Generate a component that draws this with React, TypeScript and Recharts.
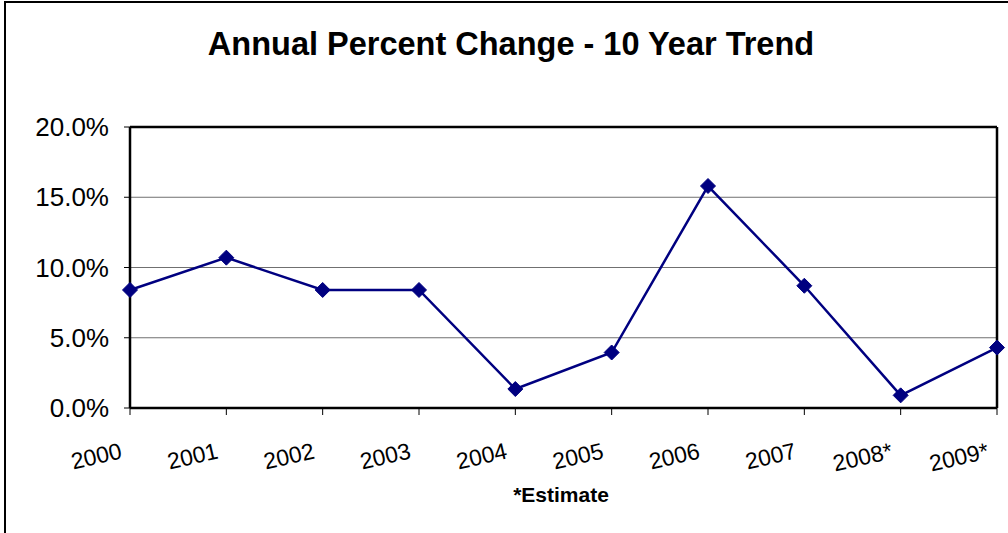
import { LineChart, Line, XAxis, YAxis, CartesianGrid, ReferenceLine } from "recharts";

const years = ["2000", "2001", "2002", "2003", "2004", "2005", "2006", "2007", "2008*", "2009*"];
const pctChange = [8.4, 10.7, 8.4, 8.4, 1.35, 3.95, 15.8, 8.7, 0.9, 4.3];
const yTicks = [0, 5, 10, 15, 20];

const data = years.map((year, i) => ({ year, value: pctChange[i] }));

const FONT = "'Liberation Sans', Arial, sans-serif";

function Diamond(props: any) {
    const { cx, cy, index } = props;
    if (cx == null || cy == null) return null;
    const r = 7.5;
    return (
        <path
            key={`d-${index}`}
            d={`M${cx},${cy - r}L${cx + r},${cy}L${cx},${cy + r}L${cx - r},${cy}Z`}
            fill="#000080"
            stroke="#000080"
        />
    );
}

function YearTick(props: any) {
    const { x, y, payload } = props;
    const ax = x - 7;
    const ay = y + 41;
    return (
        <text
            x={ax}
            y={ay}
            textAnchor="end"
            transform={`rotate(-13, ${ax}, ${ay})`}
            fontSize={23}
            fontFamily={FONT}
            fill="#000"
        >
            {payload.value}
        </text>
    );
}

export default function App() {
    return (
        <div style={{ position: "absolute", left: 0, top: 0, width: 1008, height: 533, background: "#fff", fontFamily: FONT }}>
            <div
                style={{
                    position: "absolute", left: 4, top: 1, width: 1004, height: 532,
                    borderTop: "2px solid #000", borderLeft: "2px solid #000", boxSizing: "border-box",
                }}
            />
            <div
                style={{
                    position: "absolute", left: 0, width: 1022, top: 22, textAlign: "center",
                    fontSize: 32.5, fontWeight: "bold", color: "#000", lineHeight: "44px",
                }}
            >
                Annual Percent Change - 10 Year Trend
            </div>
            <div
                style={{
                    position: "absolute", left: 461, width: 200, top: 482, textAlign: "center",
                    fontSize: 21, fontWeight: "bold", color: "#000", lineHeight: "26px",
                }}
            >
                *Estimate
            </div>
            <div style={{ position: "absolute", left: 0, top: 0 }}>
                <LineChart width={1008} height={533} data={data} margin={{ top: 127, right: 11, left: 10, bottom: 65 }}>
                    <CartesianGrid horizontal vertical={false} stroke="#707070" strokeWidth={1} />
                    <ReferenceLine y={20} stroke="#000" strokeWidth={2.5} />
                    <ReferenceLine x="2009*" stroke="#000" strokeWidth={2.5} />
                    <XAxis
                        dataKey="year"
                        height={60}
                        axisLine={{ stroke: "#000", strokeWidth: 2.5 }}
                        tickLine={{ stroke: "#000", strokeWidth: 1 }}
                        tickSize={7}
                        tick={<YearTick />}
                        interval={0}
                    />
                    <YAxis
                        width={120}
                        domain={[0, 20]}
                        ticks={yTicks}
                        tickFormatter={(v: number) => `${v.toFixed(1)}%`}
                        axisLine={{ stroke: "#000", strokeWidth: 2.5 }}
                        tickLine={{ stroke: "#000", strokeWidth: 1 }}
                        tickSize={6}
                        tickMargin={15}
                        tick={{ fontSize: 26, fontFamily: FONT, fill: "#000" }}
                    />
                    <Line
                        dataKey="value"
                        stroke="#000080"
                        strokeWidth={2.5}
                        dot={Diamond}
                        activeDot={false}
                        isAnimationActive={false}
                    />
                </LineChart>
            </div>
        </div>
    );
}
